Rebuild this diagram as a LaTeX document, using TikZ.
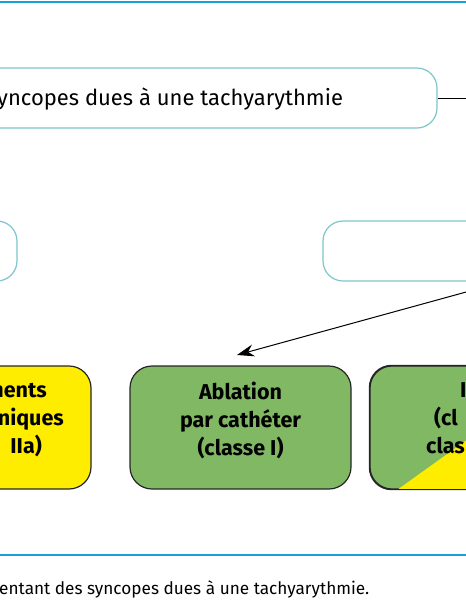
\documentclass[tikz,border=0pt]{standalone}
\usepackage{fontspec}
\setmainfont{Fira Sans}
\usetikzlibrary{arrows.meta}
\definecolor{rulecol}{HTML}{1A9FDC}
\definecolor{boxline}{HTML}{7CC6CC}
\definecolor{yel}{HTML}{FFED00}
\definecolor{grn}{HTML}{80B863}
\tikzset{
  qbox/.style={draw=boxline, line width=1.2pt, rounded corners=20pt, fill=white, inner sep=0pt},
  tbox/.style={draw=black!85, line width=1.2pt, rounded corners=22pt, inner sep=0pt},
  btxt/.style={font=\fontsize{21.5}{28}\selectfont\bfseries, inner sep=0pt, align=center},
  rtxt/.style={font=\fontsize{22}{26}\selectfont, inner sep=0pt},
  captxt/.style={font=\fontsize{17.2}{20}\selectfont, inner sep=0pt},
  conn/.style={draw=black, line width=1pt},
  rulestyle/.style={draw=rulecol, line width=2.5pt}
}
\begin{document}
\begin{tikzpicture}[x=1pt,y=-1pt]
\useasboundingbox (0,0) rectangle (466,600);
\clip (0,0) rectangle (466,600);
% rules
\draw[rulestyle] (-5,2) -- (471,2);
\draw[rulestyle] (-5,555) -- (471,555);
% top box
\node[qbox, minimum width=637pt, minimum height=60pt] (q) at (118.5,98) {};
\node[rtxt, anchor=base west] (qt) at (-3,105) {yncopes dues à une tachyarythmie};
\coordinate (qout) at (480,98);
\draw[conn] (q.east) -- (qout);
% middle boxes
\node[qbox, minimum width=217pt, minimum height=60pt] (ml) at (-91.5,251) {};
\node[qbox, minimum width=377pt, minimum height=60pt] (mr) at (511.5,251) {};
% arrow
\coordinate (src) at (480,288.2);
\coordinate (tip) at (237,355);
\draw[conn, -{Stealth[length=17pt,width=12pt]}] (src) -- (tip);
% bottom boxes
\node[tbox, fill=yel, minimum width=241pt, minimum height=123pt] (med) at (-29.5,427.5) {};
\node[btxt, anchor=base east] (m1) at (47,397) {ments};
\node[btxt, anchor=base east] (m2) at (64,425) {niques};
\node[btxt, anchor=base east] (m3) at (42,453) {IIa)};
\node[tbox, fill=grn, minimum width=221pt, minimum height=123pt] (abl) at (240.5,427.5) {};
\node[btxt] (ablt) at (240.5,420) {Ablation\\par cathéter\\(classe I)};
\node[tbox, fill=grn, minimum width=221pt, minimum height=123pt] (dai) at (480.5,427.5) {};
\begin{scope}
  \clip[rounded corners=22pt] (dai.north west) rectangle (dai.south east);
  \fill[yel] (397,490) -- (570,366) -- (600,366) -- (600,490) -- cycle;
\end{scope}
\draw[tbox] (dai.north west) rectangle (dai.south east);
\node[btxt, anchor=base west] (d1) at (460,397) {I};
\node[btxt, anchor=base west] (d2) at (434,425) {(cl};
\node[btxt, anchor=base west] (d3) at (426,453) {clas};
% caption
\node[captxt, anchor=base west] (cap) at (-1,594) {entant des syncopes dues à une tachyarythmie.};
\end{tikzpicture}
\end{document}
